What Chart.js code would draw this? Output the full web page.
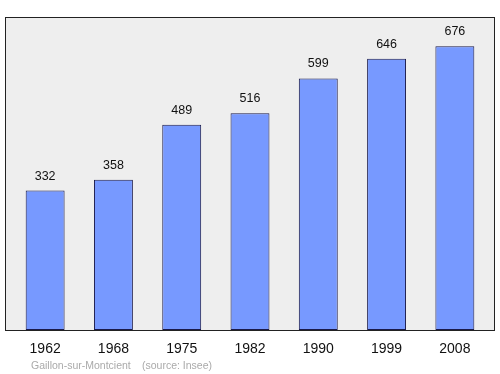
<!DOCTYPE html>
<html>
<head>
<meta charset="utf-8">
<script src="https://cdn.jsdelivr.net/npm/chart.js@4/dist/chart.umd.min.js"></script>
<style>
  html, body { margin: 0; padding: 0; background: #fff; }
  #wrap { width: 500px; height: 374px; }
</style>
</head>
<body>
<div id="wrap"><canvas id="popChart" width="500" height="374"></canvas></div>
<script>
const years = ['1962', '1968', '1975', '1982', '1990', '1999', '2008'];
const population = [332, 358, 489, 516, 599, 646, 676];
const townName = 'Gaillon-sur-Montcient';
const sourceNote = '(source: Insee)';

const fontFam = '"Liberation Sans", Arial, sans-serif';

// grey frame behind the bars
const framePlugin = {
  id: 'frame',
  beforeDraw(chart) {
    const ctx = chart.ctx;
    ctx.save();
    ctx.fillStyle = '#eeeeee';
    ctx.fillRect(5.5, 17.5, 489, 313);
    ctx.strokeStyle = '#222222';
    ctx.lineWidth = 1;
    ctx.strokeRect(5.5, 17.5, 489, 313);
    ctx.restore();
  }
};

// numbers over the bars + footer line
const labelPlugin = {
  id: 'labels',
  afterDatasetsDraw(chart) {
    const ctx = chart.ctx;
    const meta = chart.getDatasetMeta(0);
    ctx.save();
    ctx.fillStyle = '#111';
    ctx.font = '12.5px ' + fontFam;
    ctx.textAlign = 'center';
    ctx.textBaseline = 'alphabetic';
    meta.data.forEach((bar, i) => {
      ctx.fillText(String(population[i]), bar.x, bar.y - 11);
    });
    ctx.fillStyle = '#aaaaaa';
    ctx.font = '10.5px ' + fontFam;
    ctx.textAlign = 'left';
    ctx.fillText(townName, 31, 369);
    ctx.fillText(sourceNote, 142, 369);
    ctx.restore();
  }
};

new Chart(document.getElementById('popChart'), {
  type: 'bar',
  data: {
    labels: years,
    datasets: [{
      data: population,
      backgroundColor: '#7799ff',
      borderColor: '#1a1a4a',
      borderWidth: 1,
      borderSkipped: false,
      barPercentage: 0.57,
      categoryPercentage: 1
    }]
  },
  options: {
    responsive: false,
    animation: false,
    layout: { padding: { left: 11, right: 11, top: 18, bottom: 0 } },
    plugins: { legend: { display: false }, tooltip: { enabled: false } },
    scales: {
      x: {
        grid: { display: false },
        border: { display: false },
        ticks: { color: '#111', font: { size: 14, family: fontFam }, padding: 3 },
        afterFit(scale) { scale.height = 44; }
      },
      y: {
        display: false,
        min: 0,
        max: 743
      }
    }
  },
  plugins: [framePlugin, labelPlugin]
});
</script>
</body>
</html>
